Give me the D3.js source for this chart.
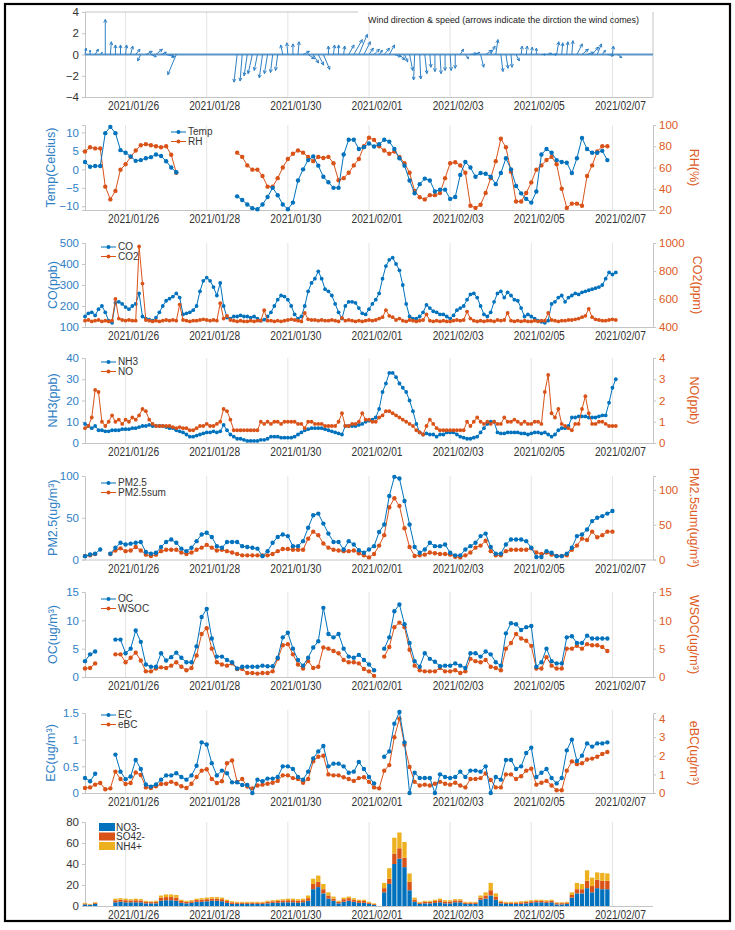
<!DOCTYPE html>
<html><head><meta charset="utf-8">
<script src="https://cdn.jsdelivr.net/npm/d3@7"></script>
<style>
body{margin:0;background:#fff;}
svg text{font-family:"Liberation Sans",Arial,sans-serif;}
</style></head><body><svg id="chart" width="735" height="930"></svg>
<script>
// ---------- DATA ----------
const tickLabels = ["2021/01/26","2021/01/28","2021/01/30","2021/02/01","2021/02/03","2021/02/05","2021/02/07"];
const startDate = "2021/01/25", endDate = "2021/02/08";

// wind (3-hourly) u (east-west) and v (north-south) components
const windU = [0.1,0.0,0.3,0.2,0.0,0.1,0.0,0.0,0.1,0.2,0.4,-0.3,0.6,0.5,0.6,0.5,0.8,0.2,-0.8,
 null,null,null,null,null,null,null,null,null,null,null,
 -0.3,-0.2,-0.3,-0.4,-0.3,-0.3,-0.3,-0.2,-0.2, -0.2,-0.1,0.0,0.1, 0.6,0.6,0.5,0.5,0.6, 0.0,0.1,0.0,0.1,
 0.5,0.8,0.8,0.6,0.4, 0.5,0.3,0.5,0.5, 0.6,0.5,0.3, 0.3,-0.1,0.1,0.2, 0.1,0.0,0.1,0.0,0.1,0.0,
 0.3,0.3,0.6,0.4, 0.3,0.6,0.4,0.2, 0.2,0.2,0.1,0.3, 0.1,0.1,0.1,0.0,0.4, 0.5,0.5,
 0.2,0.1,0.1,0.1,0.5,0.6,0.6, 0.6,0.4,0.3,0.6,0.1,0.4];
const windV = [0.6,0.4,0.5,0.2,3.3,1.2,0.9,0.9,0.9,0.8,0.5,-0.6,0.3,-0.2,0.5,0.2,-0.2,-0.3,-1.9,
 null,null,null,null,null,null,null,null,null,null,null,
 -2.6,-2.5,-2.0,-1.8,-1.5,-2.2,-1.8,-1.7,-1.5, 0.9,1.1,1.0,1.2, 0.3,-0.4,-0.8,-1.0,-1.4, 0.8,0.9,0.9,0.8,
 0.9,1.4,1.9,1.2,0.6, 0.5,0.4,0.6,0.9, -0.2,-0.5,-0.7, -1.5,-2.4,-2.3,-1.8, -1.2,-1.6,-1.8,-1.5,-1.5,-1.3,
 0.5,-0.4,0.1,0.2, -1.2,0.4,0.8,1.4, -1.6,-1.3,-1.2,-0.6, 0.8,0.8,0.7,0.6,0.0, 0.1,0.0,
 1.2,1.1,1.2,1.3,1.0,0.5,0.2, 0.7,1.0,0.4,-0.1,0.8,-0.3];

// 3-hourly series
const temp = [2.0,0.7,0.9,0.9,9.8,11.5,9.8,5.2,4.5,3.5,2.3,2.5,3.0,3.3,4.0,3.6,2.2,0.5,-0.8,
 null,null,null,null,null,null,null,null,null,null,null,
 -7.3,-8.3,-9.5,-10.5,-10.8,-9.5,-7.5,-5.0,-7.0,-9.5,
 -10.8,-9.0,-3.0,0.0,2.5,3.5,1.0,-2.0,-3.5,-5.0,
 -5.0,4.0,8.0,8.0,5.5,6.0,7.0,6.2,6.8,8.0,
 7.5,5.5,3.0,1.0,-3.0,-6.5,-4.0,-2.5,-3.0,-6.0,
 -5.5,-5.5,-8.0,-7.5,-1.5,2.0,0.5,-2.0,-1.0,-1.2,
 -2.0,-4.0,-1.0,3.0,0.0,-4.5,-6.5,-8.0,-9.0,-6.0,
 4.0,5.5,4.5,2.5,2.0,1.8,-1.0,3.0,8.5,5.5,
 4.5,4.5,5.0,2.5,null,null];
const rh = [75,79,78,78,42,30,38,58,63,70,76,81,82,81,80,79,80,72,55,
 null,null,null,null,null,null,null,null,null,null,null,
 74,70,62,58,58,52,42,42,50,60,
 68,73,76,74,70,66,70,69,70,64,
 48,50,55,62,68,80,88,86,80,76,
 73,75,70,64,55,38,32,30,34,34,
 36,50,64,65,62,55,24,22,25,36,
 50,66,87,79,56,28,28,36,46,58,
 62,67,70,63,40,22,26,26,24,52,
 62,75,80,80,null,null];

// 2-hourly series
const co = [150,165,170,155,185,200,170,130,120,215,220,210,
 195,185,200,210,260,150,140,135,130,145,170,200,
 225,235,245,260,240,160,165,170,180,200,270,320,
 335,320,290,250,310,200,145,140,150,150,155,150,
 150,145,150,140,130,135,150,170,200,230,250,245,
 230,200,160,140,150,200,270,310,330,365,330,280,
 270,250,210,170,140,200,220,220,215,190,165,160,
 185,210,230,260,330,390,420,430,400,370,300,210,
 150,140,140,150,170,205,190,175,170,160,160,150,
 140,155,180,190,200,230,255,260,240,200,160,150,
 170,220,260,270,240,265,250,230,225,190,150,160,
 150,140,130,125,120,130,210,220,240,250,220,240,
 250,260,255,265,270,275,280,285,290,300,330,360,
 350,360];
const co2 = [445,450,440,445,450,440,445,440,445,600,460,450,
 445,450,445,445,975,710,450,445,440,445,440,445,
 450,445,450,445,560,450,445,440,445,445,450,455,
 450,445,450,445,570,460,480,450,445,440,445,440,
 440,445,440,445,445,520,445,445,440,445,440,445,
 450,455,450,445,440,500,455,450,450,445,450,445,
 445,450,445,440,465,445,450,445,440,445,440,445,
 450,445,450,460,470,520,480,470,450,460,445,440,
 450,445,440,445,450,490,445,440,445,440,445,440,
 440,445,450,445,450,510,460,445,440,445,440,445,
 445,440,450,445,450,500,445,440,445,440,445,440,
 440,445,440,445,445,500,450,445,440,445,445,450,
 450,455,460,470,480,530,470,455,450,445,445,450,
 455,450];
const nh3 = [9,8,7,8,6,6,5.5,5.5,6,6,6,6.5,
 6.5,6.5,7,7,7.5,8,8,8.5,8,8,8,8,
 7.5,7,7,6,5.5,5,4,3,3,3.5,4,4.5,
 5,5,5.5,5,5.5,8.5,6,4,3,2,2,1.5,
 1,1,1,1,1.5,1.5,2,3,3,3,2.5,2.5,
 2.5,2.5,3,4,5,6,6.5,7,7,7,7,6.5,
 6,5.5,5,4.5,4,8,8,8,8,8.5,9,10,
 10.5,11,12,16,24,28,33,33,31,28,26,24,
 20,15,9,5,4,4.5,4,4,3,4,4,5,
 5,5,4,3,2.5,2,2,2.5,3,5,7,9,
 10,10,5,4.5,4.5,5,5,5,5,4.5,4.5,4,
 4.5,5,5,4.5,5,4,3,4,6,7,7,8,
 12,12,12.5,12.5,12.5,12,12,12,12.5,13,13,19,
 26,30];
const no = [0.7,0.8,1.2,2.5,2.4,1.0,0.8,1.0,1.3,1.0,1.1,0.9,
 1.1,1.0,1.2,1.1,1.3,1.6,1.5,1.1,0.9,0.8,0.8,0.8,
 0.8,0.8,0.75,0.7,0.75,0.7,0.7,0.6,0.6,0.7,0.8,0.8,
 0.9,0.8,0.8,0.9,1.0,1.6,1.5,1.1,0.6,0.6,0.6,0.6,
 0.6,0.6,0.6,0.6,1.0,0.9,1.0,0.9,1.0,1.0,0.9,1.0,
 1.0,1.0,1.0,0.9,0.9,0.7,1.0,1.0,0.9,0.9,0.9,0.8,
 0.8,0.8,0.8,1.0,1.4,0.8,0.8,0.9,0.9,1.0,1.4,1.1,
 1.1,1.0,1.0,1.2,1.3,1.5,1.5,1.4,1.3,1.2,1.1,1.0,
 0.9,0.8,0.6,0.5,0.4,0.8,1.1,0.9,0.7,0.6,0.6,0.6,
 0.6,0.6,0.6,0.6,0.6,1.0,0.8,1.0,1.2,1.0,0.9,1.0,
 0.9,1.0,0.9,0.9,1.2,1.0,1.0,1.1,1.0,0.9,1.0,0.9,
 0.9,1.0,1.0,0.9,2.4,3.2,1.4,1.2,1.6,0.9,0.8,0.7,
 0.6,0.9,0.9,1.6,2.2,1.4,0.9,0.9,1.0,1.0,0.9,0.8,
 0.8,0.8];

const pm25 = [4,6,7,12,null,7,14,20,18,19, 20,21,9,7,8,15,21,24,20,13,
 10,14,22,30,32,27,16,14,21,21, 21,16,15,14,13,4,10,20,27,30,
 28,16,16,22,38,53,55,43,31,21, 21,12,22,18,11,8,12,16,33,42,
 76,99,97,70,42,15,8,12,20,16, 16,18,8,5,5,12,16,20,28,31,
 15,7,7,18,24,24,24,22,14,3, 3,10,8,4,4,7,14,28,30,36,
 46,50,52,55,58,null];
const pm25sum = [5,6,8,null,null,8,13,16,12,13, 18,13,7,5,7,12,14,14,14,10,
 8,10,14,17,21,17,13,14,12,10, 8,6,6,6,6,6,6,8,12,15,
 15,14,14,14,30,40,35,23,17,14, 13,12,12,13,9,6,3,8,20,35,
 75,88,77,45,18,5,6,7,10,9, 8,8,7,4,3,6,10,17,20,27,
 12,6,6,12,14,14,14,14,16,10, 8,10,7,5,5,6,14,20,30,28,
 40,32,35,40,40,null];
const oc = [2.8,4.0,4.5,null,null,null,6.6,6.6,4.2,5.0, 8.2,6.2,2.2,1.8,1.8,4.2,2.9,3.5,4.3,3.4,
 2.6,2.6,5.4,10.6,12.0,6.8,3.6,3.6,3.0,2.6, 1.5,1.8,1.8,1.8,1.8,2.0,1.9,1.9,3.4,7.0,
 7.8,5.0,3.0,2.0,3.4,5.2,6.3,12.2,7.6,7.0, 7.6,5.0,3.6,3.4,3.9,3.0,2.2,1.2,null,5.0,
 7.0,11.6,12.8,9.3,6.0,2.8,1.8,4.2,3.2,2.7, 1.9,2.0,2.0,2.4,2.0,1.6,4.2,4.2,3.6,4.5,
 4.0,2.6,2.0,7.7,9.5,9.3,8.3,8.8,9.0,1.8, 2.6,5.0,2.8,2.4,2.4,7.0,7.2,6.0,6.0,7.3,
 6.8,6.8,6.8,6.8,null,null];
const wsoc = [1.5,1.6,2.4,null,null,null,4.0,4.0,2.6,3.4, 4.3,2.9,1.0,1.0,1.5,1.7,1.6,2.0,2.6,1.8,
 1.2,1.6,3.8,7.6,8.6,5.0,2.6,2.2,2.0,2.4, 1.4,1.4,0.7,0.7,0.6,0.7,0.7,1.0,3.2,5.6,
 5.8,4.0,2.2,1.5,2.8,1.6,1.8,5.2,5.0,4.6, 4.2,3.0,2.6,2.6,2.4,1.4,1.0,0.2,null,3.6,
 5.3,8.8,9.6,8.8,4.8,2.0,1.2,1.0,1.0,1.0, 1.6,1.0,1.0,1.2,0.7,1.0,3.2,2.8,2.6,3.0,
 1.8,1.6,1.2,5.0,6.0,7.6,6.8,6.4,5.5,1.5, 1.5,3.5,2.0,1.5,1.5,5.0,5.0,5.5,5.0,5.8,
 5.6,5.6,5.3,4.6,null,null];
const ec = [0.28,0.22,0.36,null,null,null,0.72,0.40,0.26,0.31,
 0.62,0.45,0.16,0.12,0.16,0.25,0.33,0.33,0.37,0.30,
 0.25,0.33,0.51,0.95,0.91,0.56,0.33,0.42,0.37,0.20,
 0.20,0.15,0.15,0.0,0.25,0.22,0.27,0.27,0.30,0.50,
 0.50,0.45,0.30,0.25,0.40,0.65,0.78,0.88,0.50,0.55,
 0.55,0.50,0.38,0.40,0.58,0.45,0.30,0.18,null,0.68,
 0.78,1.30,1.52,0.95,0.0,0.38,0.28,0.28,0.28,0.0,
 0.35,0.30,0.28,0.30,0.40,0.30,0.42,0.42,0.40,0.50,
 0.0,0.30,0.25,0.62,0.62,0.45,0.50,0.75,0.85,0.30,
 0.38,0.45,0.28,0.18,0.28,0.80,1.00,0.60,0.70,0.93,
 0.87,0.93,0.93,0.95,null,null];
const ebc = [0.27,0.30,0.45,0.54,0.20,0.25,1.15,0.75,0.48,0.54,
 1.10,0.97,0.30,0.27,0.36,0.48,0.50,0.60,0.50,0.36,
 0.27,0.50,0.86,1.20,1.28,0.75,0.54,0.63,1.60,1.75,
 0.60,0.75,0.35,0.25,0.40,0.45,0.50,0.55,0.65,0.95,
 0.95,0.80,0.75,0.55,0.75,1.70,1.95,2.00,1.00,0.95,
 0.95,0.85,0.75,0.65,0.80,0.85,0.60,0.30,0.25,1.20,
 1.50,3.00,4.00,2.60,1.40,0.60,0.40,0.45,0.40,0.50,
 0.60,0.50,0.45,0.55,0.40,0.30,0.75,0.75,0.80,1.05,
 0.70,0.30,0.30,1.00,1.00,0.75,0.90,1.20,1.30,0.45,
 0.55,0.65,0.40,0.15,0.15,1.20,1.70,1.55,1.60,1.80,
 1.85,1.95,2.10,2.20,null,null];

const no3 = [1.5,1.0,2.0,null,null,null,3.5,4.0,3.5,3.5,
 3.5,3.5,2.5,2.5,2.5,5.0,5.5,5.5,5.0,3.0,
 2.5,3.0,4.0,4.0,4.5,5.0,5.0,4.5,3.0,2.0,
 2.0,2.0,2.0,2.0,2.0,2.0,2.5,3.0,3.0,3.5,
 3.5,3.5,3.0,3.5,5.0,16.0,18.0,12.0,7.0,5.0,
 2.5,4.0,5.0,4.0,3.0,3.0,2.0,1.0,null,13.0,
 21.0,40.0,45.0,37.0,15.0,4.0,2.0,2.5,2.5,3.0,
 3.5,2.5,2.5,3.5,3.5,2.0,2.0,2.0,6.0,7.0,
 10.0,6.0,2.5,2.0,2.0,2.0,2.0,2.5,3.0,3.5,
 3.5,3.0,3.5,1.5,1.5,2.0,8.0,12.0,12.0,17.0,
 13.0,17.0,16.0,16.0,null,null];
const so4 = [0.8,0.5,0.8,null,null,null,2.0,2.0,2.0,1.8,
 2.0,1.8,1.5,1.2,1.5,3.0,3.0,3.0,3.0,1.8,
 1.5,1.5,1.8,2.0,2.0,2.0,2.0,2.0,1.8,1.5,
 1.2,1.2,1.2,1.2,1.2,1.2,1.5,1.5,1.8,1.8,
 2.0,2.0,2.0,2.0,2.5,5.0,5.0,4.0,3.0,2.0,
 1.5,2.5,2.5,2.0,1.8,1.8,1.2,0.8,null,4.0,
 5.0,10.0,10.0,9.0,8.0,2.0,1.2,1.5,1.5,1.8,
 2.0,1.8,1.8,1.8,1.8,1.2,1.2,1.2,2.0,3.0,
 5.0,3.0,1.5,1.2,1.2,1.2,1.5,1.5,1.5,1.5,
 1.5,1.5,1.5,1.2,1.2,1.2,2.5,4.0,4.0,7.0,
 6.0,8.0,8.0,8.0,null,null];
const nh4 = [0.7,0.5,0.7,null,null,null,1.5,1.5,1.5,1.2,
 1.5,1.2,1.0,0.8,1.0,2.0,2.5,2.5,2.5,1.2,
 1.0,1.0,1.2,1.5,1.5,1.5,1.5,1.5,1.2,1.0,
 0.8,0.8,0.8,0.8,0.8,0.8,1.0,1.0,1.2,1.2,
 1.5,1.5,1.5,1.5,2.5,5.0,6.0,5.0,3.0,2.0,
 1.0,1.5,1.5,1.5,1.2,1.2,0.8,0.7,null,5.0,
 10.0,15.0,15.0,15.0,8.0,2.0,0.8,1.0,1.0,1.2,
 1.5,1.2,1.2,1.2,1.2,0.8,0.8,0.8,2.0,3.0,
 7.0,3.0,1.0,0.8,0.8,0.8,1.0,1.0,1.0,1.0,
 1.0,1.0,1.0,0.8,0.8,0.8,2.5,6.0,5.0,10.0,
 8.0,7.0,7.5,7.0,null,null];

// ---------- SETUP ----------
const BLUE="#0072BD", ORANGE="#D95319", YELLOW="#EDB120";
const LBLUE="#2f80c4", LORANGE="#dd5a22";
const AX="#c4c4c4", GRID="#e4e4e4", TXT="#333";
const parse = d3.utcParse("%Y/%m/%d");
const tickDates = tickLabels.map(parse);
const t0 = parse(startDate);
const HOUR = 3600e3;
const t3 = d3.range(temp.length).map(i => new Date(+t0 + i*3*HOUR));
const t2 = d3.range(co.length).map(j => new Date(+t0 + j*2*HOUR));

const svg = d3.select("#chart");
const X0 = 85, X1 = 653;
const x = d3.scaleUtc().domain([t0, parse(endDate)]).range([X0, X1]);

svg.append("rect").attr("x",5).attr("y",4).attr("width",725).attr("height",917)
  .attr("fill","none").attr("stroke","#000").attr("stroke-width",2.2);

function frame(top, bottom){
  const g = svg.append("g");
  g.selectAll("line.grid").data(tickDates).join("line")
    .attr("x1",d=>x(d)).attr("x2",d=>x(d)).attr("y1",top).attr("y2",bottom)
    .attr("stroke",GRID).attr("stroke-width",1);
  g.append("line").attr("x1",X0).attr("x2",X1).attr("y1",bottom+0.5).attr("y2",bottom+0.5)
    .attr("stroke",AX);
  g.selectAll("text.xt").data(tickDates).join("text")
    .attr("x",d=>x(d)+8).attr("y",bottom+13).attr("text-anchor","middle")
    .attr("font-size",12).attr("textLength",51).attr("lengthAdjust","spacingAndGlyphs")
    .attr("fill",TXT).text((d,i)=>tickLabels[i]);
  return g;
}
function leftAxis(y, ticks, color, fmt){
  const g = svg.append("g").attr("transform",`translate(${X0},0)`)
    .call(d3.axisLeft(y).tickValues(ticks).tickSize(3).tickPadding(3).tickFormat(fmt||d3.format("")));
  g.select(".domain").attr("stroke",AX);
  g.selectAll(".tick line").attr("stroke",AX);
  g.selectAll("text").attr("fill",color).attr("font-size",11.5).attr("font-family",null);
  return g;
}
function rightAxis(y, ticks, color){
  const g = svg.append("g").attr("transform",`translate(${X1},0)`)
    .call(d3.axisRight(y).tickValues(ticks).tickSize(3).tickPadding(3).tickFormat(d3.format("")));
  g.select(".domain").attr("stroke",AX);
  g.selectAll(".tick line").attr("stroke",AX);
  g.selectAll("text").attr("fill",color).attr("font-size",11.5).attr("font-family",null);
  return g;
}
function yTitle(txt, xPos, top, bottom, color, rot){
  svg.append("text").attr("transform",`translate(${xPos},${(top+bottom)/2}) rotate(${rot})`)
    .attr("text-anchor","middle").attr("font-size",12.5).attr("fill",color).text(txt);
}
function series(times, vals, y, color, r){
  const pts = times.map((t,i)=>[t, vals[i]]);
  const line = d3.line().defined(d=>d[1]!=null).x(d=>x(d[0])).y(d=>y(d[1]));
  svg.append("path").attr("d",line(pts)).attr("fill","none").attr("stroke",color).attr("stroke-width",1);
  svg.append("g").selectAll("circle").data(pts.filter(d=>d[1]!=null)).join("circle")
    .attr("cx",d=>x(d[0])).attr("cy",d=>y(d[1])).attr("r",r).attr("fill",color);
}
function legend(xp, yp, names, colors){
  names.forEach((n,k)=>{
    const yy = yp + k*9.5;
    svg.append("line").attr("x1",xp).attr("x2",xp+15).attr("y1",yy).attr("y2",yy).attr("stroke",colors[k]).attr("stroke-width",1);
    svg.append("circle").attr("cx",xp+7.5).attr("cy",yy).attr("r",2).attr("fill",colors[k]);
    svg.append("text").attr("x",xp+17).attr("y",yy+3.3).attr("font-size",10).attr("fill",TXT).text(n);
  });
}

// ---------- PANEL 1: wind ----------
{
  const top=12, bottom=97;
  frame(top,bottom);
  const y = d3.scaleLinear().domain([-4,4]).range([bottom,top]);
  svg.append("line").attr("x1",X0).attr("x2",358).attr("y1",top).attr("y2",top).attr("stroke",AX);
  svg.append("line").attr("x1",X1).attr("x2",X1).attr("y1",top).attr("y2",bottom).attr("stroke",AX);
  leftAxis(y,[-4,-2,0,2,4],TXT);
  svg.append("line").attr("x1",X0).attr("x2",X1).attr("y1",y(0)).attr("y2",y(0))
    .attr("stroke","#5d95c8").attr("stroke-width",2);
  const pxPerUnit = y(0)-y(1);
  const hoursPerUnit = pxPerUnit/((x(new Date(+t0+24*HOUR))-x(t0))/24);
  const arrows = t3.map((t,i)=>({t,u:windU[i],v:windV[i]})).filter(d=>d.v!=null);
  const ag = svg.append("g").attr("stroke","#2f80c4").attr("stroke-width",1).attr("fill","none");
  arrows.forEach(d=>{
    const xa = x(d.t), ya = y(0);
    const xb = x(new Date(+d.t + d.u*hoursPerUnit*HOUR)), yb = y(d.v);
    const ang = Math.atan2(yb-ya, xb-xa), L = Math.hypot(xb-xa,yb-ya);
    const hl = Math.min(3.5, L*0.45);
    const h1 = [xb - hl*Math.cos(ang-0.45), yb - hl*Math.sin(ang-0.45)];
    const h2 = [xb - hl*Math.cos(ang+0.45), yb - hl*Math.sin(ang+0.45)];
    ag.append("path").attr("d",`M${xa},${ya}L${xb},${yb}M${h1[0]},${h1[1]}L${xb},${yb}L${h2[0]},${h2[1]}`);
  });
  svg.append("text").attr("x",368).attr("y",23).attr("font-size",9.5).attr("fill","#222")
    .attr("textLength",271).attr("lengthAdjust","spacingAndGlyphs")
    .text("Wind direction & speed (arrows indicate the dirction the wind comes)");
}

// ---------- PANEL 2: Temp / RH ----------
{
  const top=125, bottom=210;
  frame(top,bottom);
  const yL = d3.scaleLinear().domain([-11,12]).range([bottom,top]);
  const yR = d3.scaleLinear().domain([20,100]).range([bottom,top]);
  leftAxis(yL,[-10,-5,0,5,10],LBLUE);
  rightAxis(yR,[20,40,60,80,100],LORANGE);
  yTitle("Temp(Celcius)",55,top,bottom,LBLUE,-90);
  yTitle("RH(%)",690,top,bottom,LORANGE,90);
  series(t3,rh,yR,ORANGE,2.2);
  series(t3,temp,yL,BLUE,2.2);
  legend(171,132,["Temp","RH"],[BLUE,ORANGE]);
}

// ---------- PANEL 3: CO / CO2 ----------
{
  const top=243, bottom=327;
  frame(top,bottom);
  const yL = d3.scaleLinear().domain([100,500]).range([bottom,top]);
  const yR = d3.scaleLinear().domain([400,1000]).range([bottom,top]);
  leftAxis(yL,[100,200,300,400,500],LBLUE);
  rightAxis(yR,[400,600,800,1000],LORANGE);
  yTitle("CO(ppb)",57,top,bottom,LBLUE,-90);
  yTitle("CO2(ppm)",693,top,bottom,LORANGE,90);
  series(t2,co,yL,BLUE,1.9);
  series(t2,co2,yR,ORANGE,1.9);
  legend(101,247,["CO","CO2"],[BLUE,ORANGE]);
}

// ---------- PANEL 4: NH3 / NO ----------
{
  const top=358, bottom=443;
  frame(top,bottom);
  const yL = d3.scaleLinear().domain([0,40]).range([bottom,top]);
  const yR = d3.scaleLinear().domain([0,4]).range([bottom,top]);
  leftAxis(yL,[0,10,20,30,40],LBLUE);
  rightAxis(yR,[0,1,2,3,4],LORANGE);
  yTitle("NH3(ppb)",57,top,bottom,LBLUE,-90);
  yTitle("NO(ppb)",690,top,bottom,LORANGE,90);
  series(t2,nh3,yL,BLUE,1.9);
  series(t2,no,yR,ORANGE,1.9);
  legend(101,362,["NH3","NO"],[BLUE,ORANGE]);
}

// ---------- PANEL 5: PM2.5 ----------
{
  const top=476, bottom=559.5;
  frame(top,bottom);
  const yL = d3.scaleLinear().domain([0,100]).range([bottom,top]);
  const yR = d3.scaleLinear().domain([0,120]).range([bottom,top]);
  leftAxis(yL,[0,50,100],LBLUE);
  rightAxis(yR,[0,50,100],LORANGE);
  yTitle("PM2.5(ug/m³)",57,top,bottom,LBLUE,-90);
  yTitle("PM2.5sum(ug/m³)",690,top,bottom,LORANGE,90);
  series(t3,pm25sum,yR,ORANGE,2.2);
  series(t3,pm25,yL,BLUE,2.2);
  legend(101,483,["PM2.5","PM2.5sum"],[BLUE,ORANGE]);
}

// ---------- PANEL 6: OC / WSOC ----------
{
  const top=592, bottom=677;
  frame(top,bottom);
  const yL = d3.scaleLinear().domain([0,15]).range([bottom,top]);
  const yR = d3.scaleLinear().domain([0,15]).range([bottom,top]);
  leftAxis(yL,[0,5,10,15],LBLUE);
  rightAxis(yR,[0,5,10,15],LORANGE);
  yTitle("OC(ug/m³)",57,top,bottom,LBLUE,-90);
  yTitle("WSOC(ug/m³)",690,top,bottom,LORANGE,90);
  series(t3,wsoc,yR,ORANGE,2.2);
  series(t3,oc,yL,BLUE,2.2);
  legend(101,599,["OC","WSOC"],[BLUE,ORANGE]);
}

// ---------- PANEL 7: EC / eBC ----------
{
  const top=713, bottom=793;
  frame(top-3,bottom);
  const yL = d3.scaleLinear().domain([0,1.5]).range([bottom,top]);
  const yR = d3.scaleLinear().domain([0,4.3]).range([bottom,top]);
  leftAxis(yL,[0,0.5,1,1.5],LBLUE,d3.format(""));
  rightAxis(yR,[0,1,2,3,4],LORANGE);
  yTitle("EC(ug/m³)",55,top,bottom,LBLUE,-90);
  yTitle("eBC(ug/m³)",690,top,bottom,LORANGE,90);
  series(t3,ebc,yR,ORANGE,2.2);
  series(t3,ec,yL,BLUE,2.2);
  legend(101,715,["EC","eBC"],[BLUE,ORANGE]);
}

// ---------- PANEL 8: stacked ions ----------
{
  const top=822, bottom=906;
  frame(top,bottom);
  const y = d3.scaleLinear().domain([0,80]).range([bottom,top]);
  leftAxis(y,[0,20,40,60,80],TXT);
  const keys = ["NO3-","SO42-","NH4+"];
  const rows = t3.map((t,i)=>({t, "NO3-":no3[i]||0, "SO42-":so4[i]||0, "NH4+":nh4[i]||0}));
  const stacked = d3.stack().keys(keys)(rows);
  const colors = [BLUE,ORANGE,YELLOW];
  const bw = (x(new Date(+t0+3*HOUR))-x(t0))*0.85;
  stacked.forEach((layer,k)=>{
    svg.append("g").selectAll("rect").data(layer.filter(d=>d[1]>d[0])).join("rect")
      .attr("x",d=>x(d.data.t)-bw/2).attr("width",bw)
      .attr("y",d=>y(d[1])).attr("height",d=>y(d[0])-y(d[1]))
      .attr("fill",colors[k]);
  });
  keys.forEach((kname,k)=>{
    svg.append("rect").attr("x",99).attr("y",823+k*9.5).attr("width",16).attr("height",8).attr("fill",colors[k]);
    svg.append("text").attr("x",116).attr("y",830.5+k*9.5).attr("font-size",10).attr("fill",TXT).text(kname);
  });
}
</script></body></html>
